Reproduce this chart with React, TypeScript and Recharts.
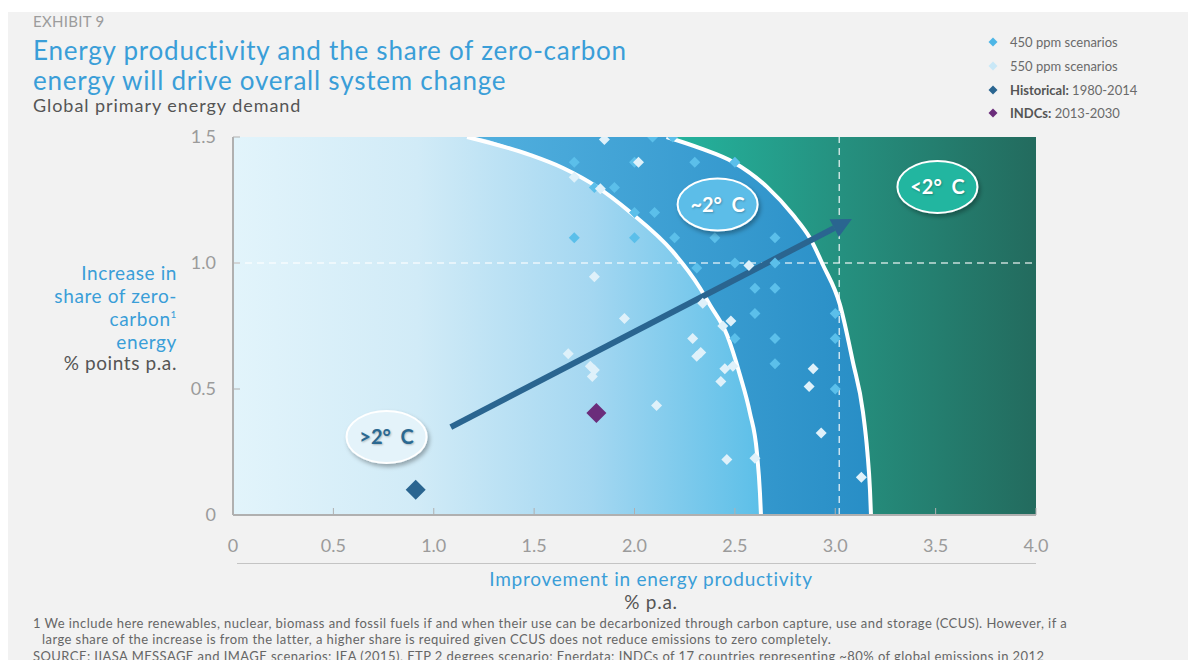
import React from "react";
import {
  ComposedChart,
  XAxis,
  YAxis,
  Area,
  Line,
  Scatter,
  ReferenceArea,
  ReferenceLine,
  ReferenceDot,
} from "recharts";

const FONT = "Lato, 'Open Sans', sans-serif";
const BLUE_TEXT = "#3a9ed8";

const xTicks = [0, 0.5, 1, 1.5, 2, 2.5, 3, 3.5, 4];
const yTicks = [0, 0.5, 1, 1.5];

// 450 ppm scenarios
const ppm450 = [
  { x: 2.09, y: 1.5 }, { x: 2.19, y: 1.5 },
  { x: 1.7, y: 1.4 }, { x: 2.0, y: 1.4 }, { x: 2.3, y: 1.4 }, { x: 2.5, y: 1.4 },
  { x: 1.8, y: 1.3 }, { x: 1.9, y: 1.3 },
  { x: 2.0, y: 1.2 }, { x: 2.1, y: 1.2 },
  { x: 1.7, y: 1.1 }, { x: 2.0, y: 1.1 }, { x: 2.2, y: 1.1 }, { x: 2.4, y: 1.1 }, { x: 2.7, y: 1.1 },
  { x: 2.31, y: 0.98 }, { x: 2.5, y: 1.0 }, { x: 2.7, y: 1.0 },
  { x: 2.6, y: 0.9 }, { x: 2.7, y: 0.9 },
  { x: 2.6, y: 0.8 }, { x: 3.0, y: 0.8 },
  { x: 2.5, y: 0.7 }, { x: 2.7, y: 0.7 }, { x: 3.0, y: 0.7 },
  { x: 2.7, y: 0.6 }, { x: 3.0, y: 0.5 },
];

// 550 ppm scenarios
const ppm550 = [
  { x: 1.85, y: 1.49 }, { x: 2.02, y: 1.4 }, { x: 1.7, y: 1.34 }, { x: 1.83, y: 1.295 },
  { x: 1.8, y: 0.945 }, { x: 2.57, y: 0.99 }, { x: 1.95, y: 0.78 }, { x: 1.67, y: 0.64 },
  { x: 1.78, y: 0.59 }, { x: 1.8, y: 0.575 }, { x: 1.79, y: 0.55 }, { x: 2.29, y: 0.7 },
  { x: 2.31, y: 0.63 }, { x: 2.33, y: 0.645 }, { x: 2.11, y: 0.435 }, { x: 2.34, y: 0.84 },
  { x: 2.44, y: 0.75 }, { x: 2.48, y: 0.77 }, { x: 2.45, y: 0.58 }, { x: 2.49, y: 0.59 },
  { x: 2.43, y: 0.53 }, { x: 2.89, y: 0.58 }, { x: 2.87, y: 0.51 }, { x: 2.93, y: 0.325 },
  { x: 2.46, y: 0.22 }, { x: 2.6, y: 0.225 }, { x: 3.13, y: 0.15 },
];

const historical = [{ x: 0.91, y: 0.1 }];
const indcs = [{ x: 1.81, y: 0.405 }];

// zone boundaries
const innerArc = [
  { x: 1.166, y: 1.5 }, { x: 1.479, y: 1.429 }, { x: 1.644, y: 1.377 }, { x: 1.813, y: 1.302 },
  { x: 1.978, y: 1.202 }, { x: 2.192, y: 1.044 }, { x: 2.326, y: 0.901 }, { x: 2.376, y: 0.833 },
  { x: 2.461, y: 0.714 }, { x: 2.525, y: 0.556 }, { x: 2.575, y: 0.405 }, { x: 2.61, y: 0.246 },
  { x: 2.625, y: 0.087 }, { x: 2.63, y: 0 },
];
const outerArc = [
  { x: 2.16, y: 1.5 }, { x: 2.326, y: 1.456 }, { x: 2.491, y: 1.401 }, { x: 2.66, y: 1.302 },
  { x: 2.79, y: 1.19 }, { x: 2.874, y: 1.099 }, { x: 2.939, y: 0.992 }, { x: 3.024, y: 0.833 },
  { x: 3.088, y: 0.607 }, { x: 3.138, y: 0.409 }, { x: 3.16, y: 0.25 }, { x: 3.173, y: 0.1 },
  { x: 3.178, y: 0 },
];
const innerZone = [{ x: 0, y: 1.5 }, ...innerArc];
const outerZone = [{ x: 0, y: 1.5 }, ...outerArc];

const arrowFrom = { x: 1.085, y: 0.349 };
const arrowTo = { x: 3.083, y: 1.175 };
const dashX = 3.02;
const dashY = 1.0;

const badges = [
  { x: 0.765, y: 0.31, label: ">2°\u00a0\u00a0C", fill: "#e4f3fa", color: "#2a6891" },
  { x: 2.414, y: 1.232, label: "~2°\u00a0\u00a0C", fill: "#5bbde8", color: "#ffffff" },
  { x: 3.509, y: 1.302, label: "<2°\u00a0\u00a0C", fill: "#22b6a0", color: "#ffffff" },
];

const diamond = (r: number, fill: string) => (p: any) => {
  const { cx, cy } = p;
  if (cx == null || cy == null) return <g />;
  return <path d={`M${cx},${cy - r}L${cx + r},${cy}L${cx},${cy + r}L${cx - r},${cy}Z`} fill={fill} />;
};

const ArrowShape = (p: any) => {
  const { x1, y1, x2, y2 } = p;
  if ([x1, y1, x2, y2].some((v) => v == null || isNaN(v))) return <g />;
  const dx = x2 - x1;
  const dy = y2 - y1;
  const len = Math.sqrt(dx * dx + dy * dy);
  const ux = dx / len;
  const uy = dy / len;
  const L = 20;
  const W = 10;
  const bx = x2 - ux * L;
  const by = y2 - uy * L;
  return (
    <g>
      <line x1={x1} y1={y1} x2={bx} y2={by} stroke="#2a6590" strokeWidth={6} />
      <path
        d={`M${x2},${y2}L${bx - uy * W},${by + ux * W}L${bx + uy * W},${by - ux * W}Z`}
        fill="#2a6590"
      />
    </g>
  );
};

const badgeShape = (b: (typeof badges)[number]) => (p: any) => {
  const { cx, cy } = p;
  if (cx == null || cy == null) return <g />;
  return (
    <g>
      <ellipse cx={cx} cy={cy} rx={40} ry={26} fill={b.fill} stroke="#fff" strokeWidth={2} filter="url(#shadow)" />
      <text
        x={cx}
        y={cy + 7}
        textAnchor="middle"
        fill={b.color}
        fontSize={20}
        fontWeight={700}
        fontFamily={FONT}
        style={{ textShadow: "1px 1px 2px rgba(0,0,0,0.25)" }}
      >
        {b.label}
      </text>
    </g>
  );
};

const tickStyle = { fill: "#9b9b9b", fontSize: 18, fontFamily: FONT };

const legendItems = [
  { color: "#4db6e6", bold: "", text: "450 ppm scenarios" },
  { color: "#c9e8f7", bold: "", text: "550 ppm scenarios" },
  { color: "#2a6590", bold: "Historical:", text: " 1980-2014" },
  { color: "#6b2d7b", bold: "INDCs:", text: " 2013-2030" },
];

const abs = (left: number, top: number, extra: React.CSSProperties = {}): React.CSSProperties => ({
  position: "absolute",
  left,
  top,
  whiteSpace: "nowrap",
  ...extra,
});

export default function App() {
  return (
    <div
      style={{
        position: "absolute",
        left: 0,
        top: 0,
        width: 1188,
        height: 660,
        background: "#fff",
        overflow: "hidden",
        fontFamily: FONT,
      }}
    >
      <div style={{ position: "absolute", left: 8, top: 12, right: 0, bottom: 0, background: "#f2f2f2" }} />

      <ComposedChart
        width={1188}
        height={660}
        margin={{ top: 137, right: 152, bottom: 85, left: 173 }}
        style={{ position: "absolute", left: 0, top: 0 }}
      >
        <defs>
          <linearGradient id="gGreen" x1="0" y1="0" x2="1" y2="0">
            <stop offset="0" stopColor="#1fbaa2" />
            <stop offset="0.55" stopColor="#24b39d" />
            <stop offset="0.76" stopColor="#25907f" />
            <stop offset="1" stopColor="#236b5e" />
          </linearGradient>
          <linearGradient id="gMid" x1="0" y1="0" x2="1" y2="0">
            <stop offset="0" stopColor="#6fc6ec" />
            <stop offset="0.37" stopColor="#52b0df" />
            <stop offset="1" stopColor="#288ec6" />
          </linearGradient>
          <linearGradient id="gInner" x1="0" y1="0" x2="1" y2="0">
            <stop offset="0" stopColor="#e2f4fb" />
            <stop offset="0.35" stopColor="#d1ebf7" />
            <stop offset="0.68" stopColor="#a4d7f1" />
            <stop offset="1" stopColor="#5cbfe8" />
          </linearGradient>
          <filter id="shadow" x="-30%" y="-30%" width="160%" height="170%">
            <feDropShadow dx="2" dy="3" stdDeviation="2" floodColor="#000" floodOpacity="0.3" />
          </filter>
        </defs>

        <XAxis
          type="number"
          dataKey="x"
          domain={[0, 4]}
          ticks={xTicks}
          interval={0}
          allowDataOverflow
          height={60}
          tickSize={-7}
          tickMargin={31}
          tickFormatter={(v: number) => (v === 0 ? "0" : v.toFixed(1))}
          axisLine={{ stroke: "#b0b0b0", strokeWidth: 2 }}
          tickLine={{ stroke: "#b0b0b0" }}
          tick={tickStyle}
        />
        <YAxis
          type="number"
          dataKey="y"
          domain={[0, 1.5]}
          ticks={yTicks}
          interval={0}
          allowDataOverflow
          width={60}
          tickSize={-7}
          tickMargin={24}
          tickFormatter={(v: number) => (v === 0 ? "0" : v.toFixed(1))}
          axisLine={{ stroke: "#b0b0b0", strokeWidth: 2 }}
          tickLine={{ stroke: "#b0b0b0" }}
          tick={tickStyle}
        />

        <ReferenceArea x1={0} x2={4} y1={0} y2={1.5} fill="url(#gGreen)" fillOpacity={1} stroke="none" zIndex={10} />
        <Area
          data={outerZone}
          dataKey="y"
          type="monotone"
          fill="url(#gMid)"
          fillOpacity={1}
          stroke="none"
          isAnimationActive={false}
          zIndex={20}
        />
        <Area
          data={innerZone}
          dataKey="y"
          type="monotone"
          fill="url(#gInner)"
          fillOpacity={1}
          stroke="none"
          isAnimationActive={false}
          zIndex={30}
        />
        <Line data={outerArc} dataKey="y" type="monotone" stroke="#fff" strokeWidth={4} dot={false} isAnimationActive={false} zIndex={40} />
        <Line data={innerArc} dataKey="y" type="monotone" stroke="#fff" strokeWidth={4} dot={false} isAnimationActive={false} zIndex={40} />

        <ReferenceLine y={dashY} stroke="#fff" strokeOpacity={0.75} strokeWidth={1.5} strokeDasharray="7 5" zIndex={50} />
        <ReferenceLine x={dashX} stroke="#fff" strokeOpacity={0.75} strokeWidth={1.5} strokeDasharray="7 5" zIndex={50} />

        <ReferenceLine segment={[arrowFrom, arrowTo]} shape={ArrowShape} zIndex={55} />

        <Scatter data={ppm450} shape={diamond(5.5, "#5bbfea")} isAnimationActive={false} zIndex={60} />
        <Scatter data={ppm550} shape={diamond(5.5, "#dff1fa")} isAnimationActive={false} zIndex={61} />
        <Scatter data={historical} shape={diamond(10, "#2a6590")} isAnimationActive={false} zIndex={70} />
        <Scatter data={indcs} shape={diamond(10, "#6b2d7b")} isAnimationActive={false} zIndex={70} />

        {badges.map((b) => (
          <ReferenceDot key={b.label} x={b.x} y={b.y} r={40} shape={badgeShape(b)} zIndex={90} />
        ))}
      </ComposedChart>

      {/* header */}
      <div style={abs(33, 11.5, { fontSize: 15, lineHeight: "18px", color: "#9c9c9c", letterSpacing: 0.3 })}>EXHIBIT 9</div>
      <div style={abs(33, 36, { fontSize: 26, lineHeight: "29.5px", color: BLUE_TEXT, letterSpacing: 0.78 })}>
        Energy productivity and the share of zero-carbon
        <br />
        energy will drive overall system change
      </div>
      <div style={abs(33, 94.5, { fontSize: 18, lineHeight: "20px", color: "#555", letterSpacing: 0.95 })}>
        Global primary energy demand
      </div>

      {/* legend */}
      {legendItems.map((it, i) => (
        <div key={i} style={abs(987, [42, 66, 90, 113][i] - 9, { height: 18, display: "flex", alignItems: "center", fontSize: 13, color: "#6a6a6a" })}>
          <svg width={12} height={12} style={{ marginRight: 11 }}>
            <path d="M6,1.5L10.5,6L6,10.5L1.5,6Z" fill={it.color} />
          </svg>
          <span>
            {it.bold && <b style={{ color: "#555" }}>{it.bold}</b>}
            {it.text}
          </span>
        </div>
      ))}

      {/* y-axis title */}
      <div
        style={{
          position: "absolute",
          right: 1188 - 177,
          top: 261,
          textAlign: "right",
          fontSize: 19,
          lineHeight: "23px",
          letterSpacing: 0.6,
          color: BLUE_TEXT,
          whiteSpace: "nowrap",
        }}
      >
        Increase in
        <br />
        share of zero-
        <br />
        carbon<span style={{ fontSize: 10, lineHeight: 0, position: "relative", top: -8 }}>1</span>
        <br />
        energy
      </div>
      <div
        style={{
          position: "absolute",
          right: 1188 - 177,
          top: 356,
          textAlign: "right",
          fontSize: 19,
          lineHeight: "13px",
          letterSpacing: 0.6,
          color: "#555",
          whiteSpace: "nowrap",
        }}
      >
        % points p.a.
      </div>

      {/* x-axis title */}
      <div style={{ position: "absolute", left: 237, top: 562.5, width: 799, height: 1.5, background: "#c4c4c4" }} />
      <div style={{ position: "absolute", left: 401, width: 500, top: 568, textAlign: "center", fontSize: 19, lineHeight: "22px", letterSpacing: 0.75, color: BLUE_TEXT }}>
        Improvement in energy productivity
      </div>
      <div style={{ position: "absolute", left: 401, width: 500, top: 591, textAlign: "center", fontSize: 19, lineHeight: "22px", letterSpacing: 0.75, color: "#555" }}>
        % p.a.
      </div>

      {/* footnotes */}
      <div style={abs(33, 615, { fontSize: 13, lineHeight: "16px", letterSpacing: 0.44, color: "#666" })}>
        1 We include here renewables, nuclear, biomass and fossil fuels if and when their use can be decarbonized through carbon capture, use and storage (CCUS). However, if a
      </div>
      <div style={abs(42, 631, { fontSize: 13, lineHeight: "16px", letterSpacing: 0.44, color: "#666" })}>
        large share of the increase is from the latter, a higher share is required given CCUS does not reduce emissions to zero completely.
      </div>
      <div style={abs(33, 648, { fontSize: 13, lineHeight: "16px", letterSpacing: 0.44, color: "#666" })}>
        SOURCE: IIASA MESSAGE and IMAGE scenarios; IEA (2015), ETP 2 degrees scenario; Enerdata; INDCs of 17 countries representing ~80% of global emissions in 2012
      </div>
    </div>
  );
}
